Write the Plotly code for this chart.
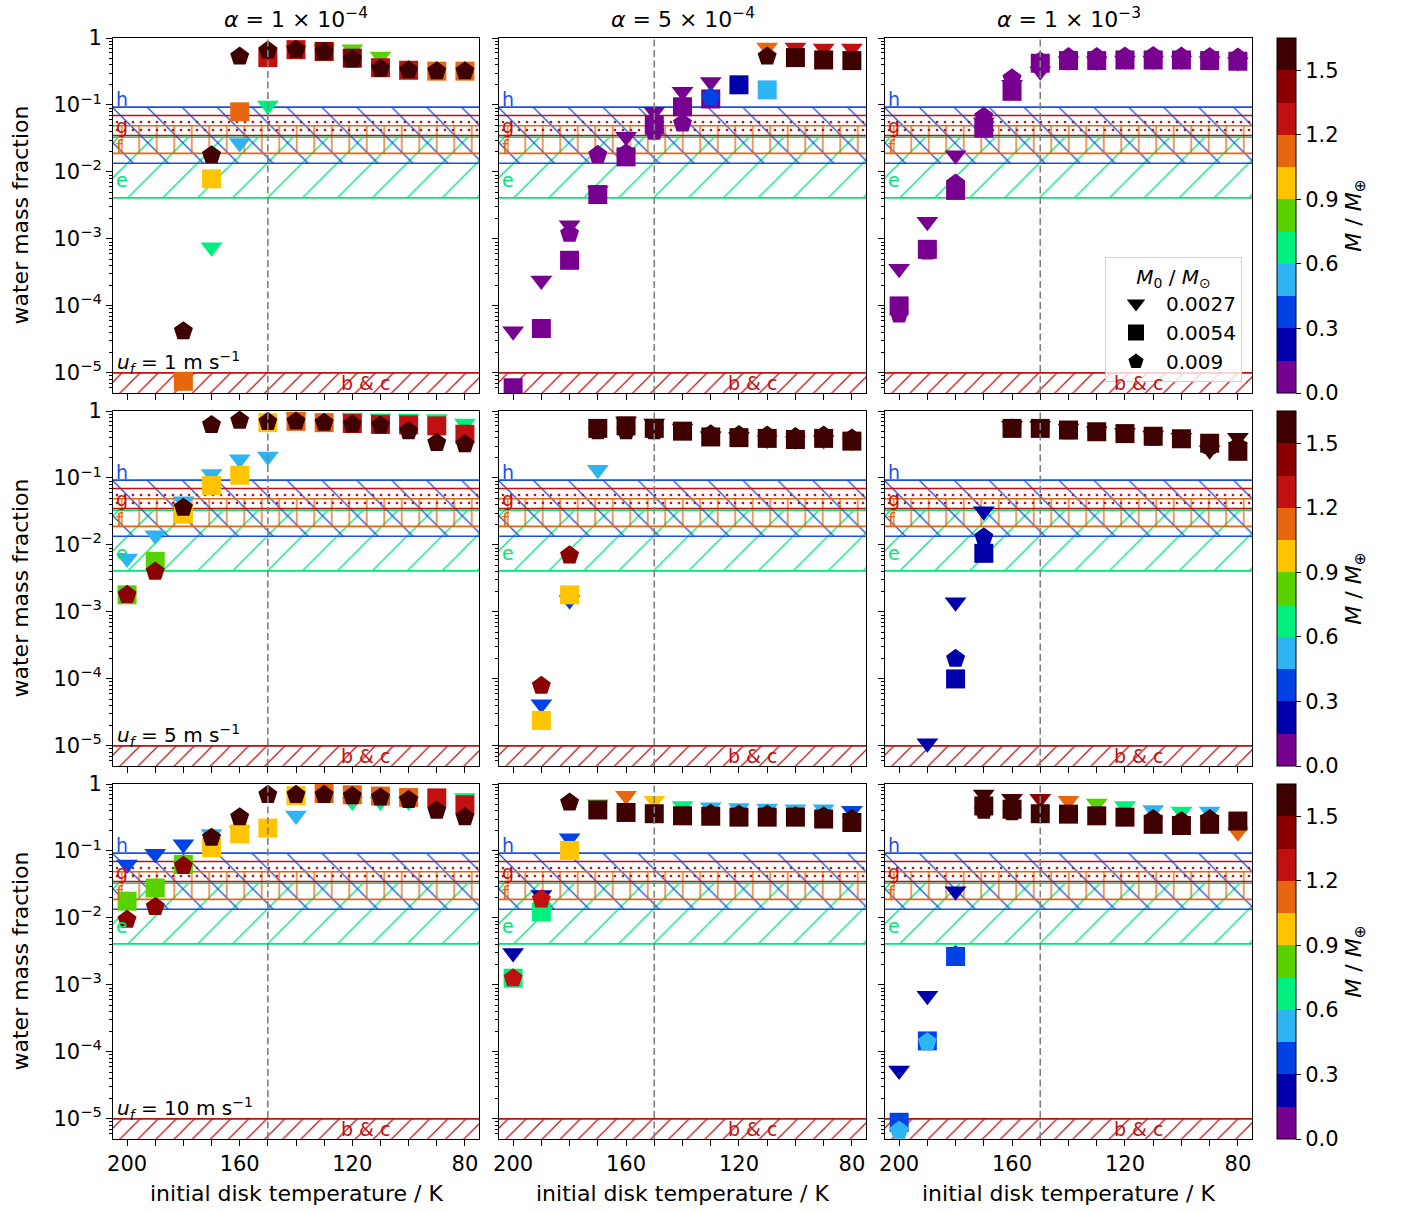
import plotly.graph_objects as go

W, H = 1406, 1211

# ---------------- data ----------------
T = [200, 190, 180, 170, 160, 150, 140, 130, 120, 110, 100, 90, 80]
T_LABELLED = [200, 160, 120, 80]
N = None
ALPHA_LABELS = ["1 × 10<sup>−4</sup>", "5 × 10<sup>−4</sup>", "1 × 10<sup>−3</sup>"]
UF_LABELS = ["1", "5", "10"]
M0_LABELS = ["0.0027", "0.0054", "0.009"]
T_SNOW = 150

# row 1: u_f = 1 m/s
r1c1_tri_w = [N, N, N, 7.5e-4, 0.027, 0.098, 0.66, 0.68, 0.68, 0.53, N, N, N]
r1c1_tri_m = [N, N, N, 0.67, 0.52, 0.67, 0.82, 0.82, 0.82, 0.82, N, N, N]
r1c1_sq_w = [N, N, 7.5e-6, 7.9e-3, 0.079, 0.51, 0.67, 0.63, 0.50, 0.36, 0.33, 0.32, 0.32]
r1c1_sq_m = [N, N, 1.12, 0.97, 1.12, 1.27, 1.27, 1.42, 1.42, 1.27, 1.27, 1.12, 1.12]
r1c1_pe_w = [N, N, 4.2e-5, 0.0178, 0.53, 0.65, 0.67, 0.62, 0.48, 0.35, 0.33, 0.32, 0.32]
r1c1_pe_m = [N, N, 1.57, 1.57, 1.57, 1.57, 1.57, 1.57, 1.57, 1.57, 1.57, 1.57, 1.57]

r1c2_tri_w = [4.2e-5, 2.4e-4, 1.6e-3, 5.2e-3, 0.0335, 0.079, 0.158, 0.22, N, 0.72, 0.72, 0.70, 0.70]
r1c2_tri_m = [0.07, 0.07, 0.07, 0.07, 0.07, 0.07, 0.07, 0.07, N, 1.12, 1.27, 1.27, 1.27]
r1c2_sq_w = [6e-6, 4.6e-5, 4.8e-4, 4.6e-3, 0.0168, 0.05, 0.094, 0.123, 0.2, 0.168, 0.51, 0.47, 0.46]
r1c2_sq_m = [0.07, 0.07, 0.07, 0.07, 0.07, 0.07, 0.07, 0.07, 0.22, 0.52, 1.57, 1.57, 1.57]
r1c2_pe_w = [N, 4.6e-5, 1.2e-3, 0.018, 0.019, 0.04, 0.053, 0.13, N, 0.53, N, N, N]
r1c2_pe_m = [N, 0.07, 0.07, 0.07, 0.07, 0.07, 0.07, 0.37, N, 1.57, N, N, N]

r1c3_tri_w = [3.6e-4, 1.8e-3, 0.0178, 0.055, 0.2, 0.32, 0.45, 0.45, 0.46, 0.46, 0.46, 0.45, 0.44]
r1c3_tri_m = [0.07] * 13
r1c3_sq_w = [1e-4, 7e-4, 5.3e-3, 0.045, 0.16, 0.42, 0.46, 0.46, 0.47, 0.47, 0.47, 0.46, 0.45]
r1c3_sq_m = [0.07] * 13
r1c3_pe_w = [7.5e-5, 6.5e-4, 6.7e-3, 0.067, 0.25, 0.45, 0.52, 0.52, 0.53, 0.54, 0.53, 0.52, 0.51]
r1c3_pe_m = [0.07] * 13

# row 2: u_f = 5 m/s
r2c1_tri_w = [6.3e-3, 0.014, 0.045, 0.115, 0.19, 0.21, 0.80, N, 0.80, 0.78, 0.77, 0.76, 0.65]
r2c1_tri_m = [0.52, 0.52, 0.52, 0.52, 0.52, 0.52, 0.67, N, 0.67, 0.67, 0.67, 0.67, 0.67]
r2c1_sq_w = [1.8e-3, 5.7e-3, 0.029, 0.077, 0.11, 0.67, 0.70, 0.67, 0.65, 0.63, 0.62, 0.60, 0.45]
r2c1_sq_m = [0.82, 0.82, 0.97, 0.97, 0.97, 0.97, 1.12, 1.12, 1.27, 1.27, 1.27, 1.27, 1.27]
r2c1_pe_w = [1.8e-3, 4e-3, 0.036, 0.62, 0.72, 0.69, 0.70, 0.67, 0.63, 0.61, 0.50, 0.335, 0.32]
r2c1_pe_m = [1.42, 1.42, 1.57, 1.57, 1.57, 1.57, 1.57, 1.57, 1.57, 1.57, 1.57, 1.57, 1.57]

r2c2_tri_w = [N, 4.2e-5, 1.5e-3, 0.133, 0.70, 0.65, 0.55, 0.42, 0.41, 0.37, 0.36, 0.37, 0.34]
r2c2_tri_m = [N, 0.37, 0.37, 0.52, 1.57, 1.57, 1.57, 1.57, 1.57, 1.12, 1.12, 1.27, 0.97]
r2c2_sq_w = [N, 2.4e-5, 1.8e-3, 0.55, 0.60, 0.55, 0.50, 0.41, 0.40, 0.39, 0.375, 0.39, 0.355]
r2c2_sq_m = [N, 0.97, 0.97, 1.57, 1.57, 1.57, 1.57, 1.57, 1.57, 1.57, 1.57, 1.57, 1.57]
r2c2_pe_w = [N, 7.9e-5, 7e-3, 0.50, 0.50, 0.50, N, 0.45, 0.44, 0.43, 0.41, 0.43, 0.39]
r2c2_pe_m = [N, 1.42, 1.42, 1.57, 1.57, 1.57, N, 1.57, 1.57, 1.57, 1.57, 1.57, 1.57]

r2c3_tri_w = [N, 1.1e-5, 1.4e-3, 0.032, 0.60, 0.60, 0.55, 0.50, 0.47, 0.43, 0.40, 0.26, 0.40]
r2c3_tri_m = [N, 0.22, 0.22, 0.22, 1.57, 1.57, 1.57, 1.57, 1.57, 1.57, 1.57, 1.57, 1.57]
r2c3_sq_w = [N, N, 1e-4, 7.5e-3, 0.55, 0.55, 0.52, 0.49, 0.46, 0.42, 0.385, 0.33, 0.25]
r2c3_sq_m = [N, N, 0.22, 0.22, 1.57, 1.57, 1.57, 1.57, 1.57, 1.57, 1.57, 1.57, 1.57]
r2c3_pe_w = [N, N, 2e-4, 0.013, 0.55, 0.55, 0.50, 0.47, 0.44, 0.40, 0.37, 0.30, 0.30]
r2c3_pe_m = [N, N, 0.22, 0.22, 1.57, 1.57, 1.57, 1.57, 1.57, 1.57, 1.57, 1.57, 1.57]

# row 3: u_f = 10 m/s
r3c1_tri_w = [0.063, 0.091, 0.126, 0.18, 0.20, N, 0.34, N, 0.55, 0.55, 0.55, N, 0.62]
r3c1_tri_m = [0.37, 0.37, 0.37, 0.52, 0.52, N, 0.52, N, 0.67, 0.67, 0.67, N, 0.67]
r3c1_sq_w = [0.0178, 0.028, 0.063, 0.112, 0.18, 0.22, 0.67, 0.72, 0.69, 0.66, 0.63, 0.62, 0.49]
r3c1_sq_m = [0.82, 0.82, 0.82, 0.97, 0.97, 0.97, 0.97, 1.12, 1.12, 1.12, 1.12, 1.27, 1.27]
r3c1_pe_w = [9.4e-3, 0.0146, 0.06, 0.158, 0.32, 0.69, 0.69, 0.69, 0.66, 0.63, 0.58, 0.40, 0.32]
r3c1_pe_m = [1.42, 1.42, 1.42, 1.57, 1.57, 1.57, 1.57, 1.57, 1.57, 1.57, 1.57, 1.57, 1.57]

r3c2_tri_w = [3e-3, 0.022, 0.155, 0.50, 0.67, 0.56, 0.47, 0.45, 0.44, 0.43, 0.42, 0.42, 0.40]
r3c2_tri_m = [0.22, 0.22, 0.37, 0.82, 1.12, 0.97, 0.67, 0.52, 0.52, 0.52, 0.52, 0.52, 0.37]
r3c2_sq_w = [1.26e-3, 0.0123, 0.102, 0.41, 0.376, 0.36, 0.335, 0.33, 0.32, 0.32, 0.32, 0.30, 0.266]
r3c2_sq_m = [0.67, 0.67, 0.97, 1.57, 1.57, 1.57, 1.57, 1.57, 1.57, 1.57, 1.57, 1.57, 1.57]
r3c2_pe_w = [1.26e-3, 0.019, 0.53, N, N, N, N, 0.36, 0.35, 0.35, 0.33, 0.33, 0.30]
r3c2_pe_m = [1.27, 1.27, 1.57, N, N, N, N, 1.57, 1.57, 1.57, 1.57, 1.57, 1.57]

r3c3_tri_w = [5.3e-5, 6.9e-4, 0.025, 0.70, 0.60, 0.60, 0.56, 0.51, 0.47, 0.41, 0.39, 0.39, 0.19]
r3c3_tri_m = [0.22, 0.22, 0.22, 1.57, 1.57, 1.42, 1.12, 0.82, 0.67, 0.52, 0.67, 0.52, 1.12]
r3c3_sq_w = [8.9e-6, 1.46e-4, 2.66e-3, 0.47, 0.42, 0.36, 0.355, 0.335, 0.32, 0.25, 0.24, 0.25, 0.28]
r3c3_sq_m = [0.37, 0.37, 0.37, 1.57, 1.57, 1.57, 1.57, 1.57, 1.57, 1.57, 1.57, 1.57, 1.57]
r3c3_pe_w = [6.7e-6, 1.4e-4, 2.8e-3, 0.40, 0.38, N, N, N, N, 0.30, 0.28, 0.30, N]
r3c3_pe_m = [0.52, 0.52, 0.37, 1.57, 1.57, N, N, N, N, 1.57, 1.57, 1.57, N]

# composition bands (water mass fraction ranges)
BAND_NAMES = ["e", "h", "f", "g", "b & c"]
BAND_LO = [0.0041, 0.0135, 0.019, 0.035, 1e-7]
BAND_HI = [0.033, 0.093, 0.049, 0.0697, 1e-5]

# discrete mass colormap (M / M_earth)
MASS_EDGES = [0.0, 0.15, 0.30, 0.45, 0.60, 0.75, 0.90, 1.05, 1.20, 1.35, 1.50, 1.65]
MASS_COLORS = ["#780090", "#0000aa", "#0042e6", "#2eb4f0", "#00f07e", "#5ad200",
               "#ffc400", "#e8660e", "#c01010", "#8a0000", "#3e0000"]
CB_TICKS = [0.0, 0.3, 0.6, 0.9, 1.2, 1.5]

PANELS = [
    [(r1c1_tri_w, r1c1_tri_m, r1c1_sq_w, r1c1_sq_m, r1c1_pe_w, r1c1_pe_m),
     (r1c2_tri_w, r1c2_tri_m, r1c2_sq_w, r1c2_sq_m, r1c2_pe_w, r1c2_pe_m),
     (r1c3_tri_w, r1c3_tri_m, r1c3_sq_w, r1c3_sq_m, r1c3_pe_w, r1c3_pe_m)],
    [(r2c1_tri_w, r2c1_tri_m, r2c1_sq_w, r2c1_sq_m, r2c1_pe_w, r2c1_pe_m),
     (r2c2_tri_w, r2c2_tri_m, r2c2_sq_w, r2c2_sq_m, r2c2_pe_w, r2c2_pe_m),
     (r2c3_tri_w, r2c3_tri_m, r2c3_sq_w, r2c3_sq_m, r2c3_pe_w, r2c3_pe_m)],
    [(r3c1_tri_w, r3c1_tri_m, r3c1_sq_w, r3c1_sq_m, r3c1_pe_w, r3c1_pe_m),
     (r3c2_tri_w, r3c2_tri_m, r3c2_sq_w, r3c2_sq_m, r3c2_pe_w, r3c2_pe_m),
     (r3c3_tri_w, r3c3_tri_m, r3c3_sq_w, r3c3_sq_m, r3c3_pe_w, r3c3_pe_m)],
]

# ---------------- styling ----------------
FONT = "DejaVu Sans"
COL_PX = [(113, 479), (499, 866), (885, 1252)]
ROW_PX = [(38, 393), (411, 766), (784, 1139)]
X_RANGE = [205, 75]
Y_RANGE = [-5.3, 0.0]
SYMBOLS = ["triangle-down", "square", "pentagon"]
SIZES = [19, 19, 20]

BAND_STYLE = {
    "e": dict(color="#00e676", shape="/", size=24.7, solidity=0.055),
    "h": dict(color="#1a50e6", shape="\\", size=24.7, solidity=0.055),
    "f": dict(color="#e8660e", shape="|", size=17.5, solidity=0.075),
    "g": dict(color="#c01010", shape=".", size=8, solidity=0.09),
    "b & c": dict(color="#c01010", shape="/", size=12.8, solidity=0.1),
}
LABEL_POS = {"h": -0.905, "g": -1.31, "f": -1.62, "e": -2.12}

cs = []
n = len(MASS_COLORS)
for i, c in enumerate(MASS_COLORS):
    cs.append([i / n, c])
    cs.append([(i + 1) / n, c])

fig = go.Figure()


def axname(r, c):
    k = r * 3 + c + 1
    return ("x" if k == 1 else f"x{k}"), ("y" if k == 1 else f"y{k}"), k


for r in range(3):
    for c in range(3):
        xa, ya, k = axname(r, c)
        # bands
        for name, lo, hi in zip(BAND_NAMES, BAND_LO, BAND_HI):
            st = BAND_STYLE[name]
            xl, xr = X_RANGE[0] + 10, X_RANGE[1] - 10
            fig.add_trace(go.Scatter(
                x=[xl, xr, xr, xl, xl], y=[lo, lo, hi, hi, lo],
                xaxis=xa, yaxis=ya, mode="lines", fill="toself",
                fillcolor="rgba(0,0,0,0)",
                fillpattern=dict(shape=st["shape"], fgcolor=st["color"],
                                 fgopacity=1, bgcolor="rgba(0,0,0,0)",
                                 size=st["size"], solidity=st["solidity"],
                                 fillmode="overlay"),
                line=dict(color=st["color"], width=1.7),
                hoverinfo="skip", showlegend=False))
        # markers
        data = PANELS[r][c]
        for j in range(3):
            wv, mv = data[2 * j], data[2 * j + 1]
            xs = [t for t, w in zip(T, wv) if w is not None]
            ys = [w for w in wv if w is not None]
            ms = [m for w, m in zip(wv, mv) if w is not None]
            fig.add_trace(go.Scatter(
                x=xs, y=ys, xaxis=xa, yaxis=ya, mode="markers",
                marker=dict(symbol=SYMBOLS[j], size=SIZES[j], color=ms,
                            coloraxis="coloraxis" if r == 0 else f"coloraxis{r + 1}",
                            line=dict(width=0)),
                showlegend=False))
        # snow line
        fig.add_shape(type="line", x0=T_SNOW, x1=T_SNOW, y0=0, y1=1,
                      xref=xa, yref=f"{ya} domain",
                      line=dict(color="#808080", width=1.6, dash="7px,3.5px"))
        # band labels
        for name, lv in LABEL_POS.items():
            fig.add_annotation(x=T[0] + 4.6, y=lv, xref=xa, yref=ya, text=name,
                               showarrow=False, xanchor="left", yanchor="middle",
                               font=dict(family=FONT, size=19, color=BAND_STYLE[name]["color"]))
        fig.add_annotation(x=115.2, y=-5.15, xref=xa, yref=ya, text="b & c",
                           showarrow=False, xanchor="center", yanchor="middle",
                           font=dict(family=FONT, size=19, color=BAND_STYLE["b & c"]["color"]))

        x0, x1 = COL_PX[c]
        y0, y1 = ROW_PX[r]
        fig.layout[f"xaxis{'' if k == 1 else k}"] = dict(
            domain=[x0 / W, x1 / W], anchor=ya, range=X_RANGE, autorange=False,
            tickmode="array", tickvals=T_LABELLED,
            ticktext=[str(t) for t in T_LABELLED],
            showticklabels=(r == 2), ticks="outside", ticklen=6, tickwidth=1,
            tickcolor="black",
            minor=dict(tickmode="array", tickvals=T, ticks="outside", ticklen=6,
                       tickwidth=1, tickcolor="black", showgrid=False),
            showline=True, linecolor="black", linewidth=1,
            mirror=True, showgrid=False, zeroline=False, automargin=False,
            tickfont=dict(family=FONT, size=21, color="black"))
        tickv = [10.0 ** p for p in range(-5, 1)]
        tickt = ["1" if p == 0 else f"10<sup>−{-p}</sup>" for p in range(-5, 1)]
        minor = [m * 10.0 ** p for p in range(-6, 0) for m in range(2, 10)]
        fig.layout[f"yaxis{'' if k == 1 else k}"] = dict(
            domain=[1 - y1 / H, 1 - y0 / H], anchor=xa, type="log",
            range=Y_RANGE, autorange=False, tickmode="array", tickvals=tickv,
            ticktext=tickt, showticklabels=(c == 0), ticks="outside", ticklen=6,
            tickwidth=1, tickcolor="black",
            minor=dict(tickmode="array", tickvals=minor, ticks="outside",
                       ticklen=3.5, tickwidth=1, tickcolor="black", showgrid=False),
            showline=True, linecolor="black", linewidth=1, mirror=True,
            showgrid=False, zeroline=False, automargin=False,
            tickfont=dict(family=FONT, size=21, color="black"))

# legend entries
for sym, lab in zip(SYMBOLS, M0_LABELS):
    fig.add_trace(go.Scatter(x=[None], y=[None], mode="markers", name=lab,
                             marker=dict(symbol=sym, size=18, color="black")))

# color axes
for r in range(3):
    y0, y1 = ROW_PX[r]
    key = "coloraxis" if r == 0 else f"coloraxis{r + 1}"
    fig.layout[key] = dict(
        colorscale=cs, cmin=MASS_EDGES[0], cmax=MASS_EDGES[-1],
        colorbar=dict(
            x=1277 / W, xanchor="left", xpad=0, y=1 - (y0 + y1) / 2 / H,
            yanchor="middle", ypad=0, len=(y1 - y0) / H, lenmode="fraction",
            thickness=19, thicknessmode="pixels", outlinewidth=1,
            outlinecolor="black", tickmode="array", tickvals=CB_TICKS,
            ticktext=[f"{v:.1f}" for v in CB_TICKS], ticks="outside",
            ticklen=5, tickcolor="black",
            tickfont=dict(family=FONT, size=21, color="black"),
            title=dict(text="<i>M</i> / <i>M</i><sub>⊕</sub>", side="right",
                       font=dict(family=FONT, size=22, color="black"))))

# titles and labels
for c, a in enumerate(ALPHA_LABELS):
    x0, x1 = COL_PX[c]
    fig.add_annotation(x=(x0 + x1) / 2 / W, y=1 - 18 / H, xref="paper", yref="paper",
                       text=f"<i>α</i> = {a}", showarrow=False,
                       font=dict(family=FONT, size=22, color="black"),
                       xanchor="center", yanchor="middle")
    fig.add_annotation(x=(x0 + x1) / 2 / W, y=1 - 1193 / H, xref="paper", yref="paper",
                       text="initial disk temperature / K", showarrow=False,
                       font=dict(family=FONT, size=22, color="black"),
                       xanchor="center", yanchor="middle")
for r, u in enumerate(UF_LABELS):
    y0, y1 = ROW_PX[r]
    fig.add_annotation(x=20 / W, y=1 - (y0 + y1) / 2 / H, xref="paper", yref="paper",
                       text="water mass fraction", textangle=-90, showarrow=False,
                       font=dict(family=FONT, size=22, color="black"),
                       xanchor="center", yanchor="middle")
    xa, ya, k = axname(r, 0)
    fig.add_annotation(x=T[0] + 4.3, y=-4.85, xref=xa, yref=ya,
                       text=f"<i>u<sub>f</sub></i> = {u} m s<sup>−1</sup>",
                       showarrow=False, xanchor="left", yanchor="middle",
                       font=dict(family=FONT, size=20, color="black"))

fig.update_layout(
    width=W, height=H, autosize=False,
    margin=dict(l=0, r=0, t=0, b=0),
    paper_bgcolor="white", plot_bgcolor="white",
    font=dict(family=FONT, color="black"),
    showlegend=True,
    legend=dict(x=1242 / W, y=1 - 382 / H, xanchor="right", yanchor="bottom",
                bgcolor="rgba(255,255,255,0.8)", bordercolor="#d0d0d0", borderwidth=1,
                font=dict(family=FONT, size=20, color="black"),
                title=dict(text="<i>M</i><sub>0</sub> / <i>M</i><sub>⊙</sub>",
                           side="top center", font=dict(family=FONT, size=20, color="black")),
                itemsizing="trace", itemwidth=50),
)

fig.write_html("out.html", config={"displayModeBar": False},
               post_script="document.body.style.margin='0px';document.body.style.padding='0px';")
